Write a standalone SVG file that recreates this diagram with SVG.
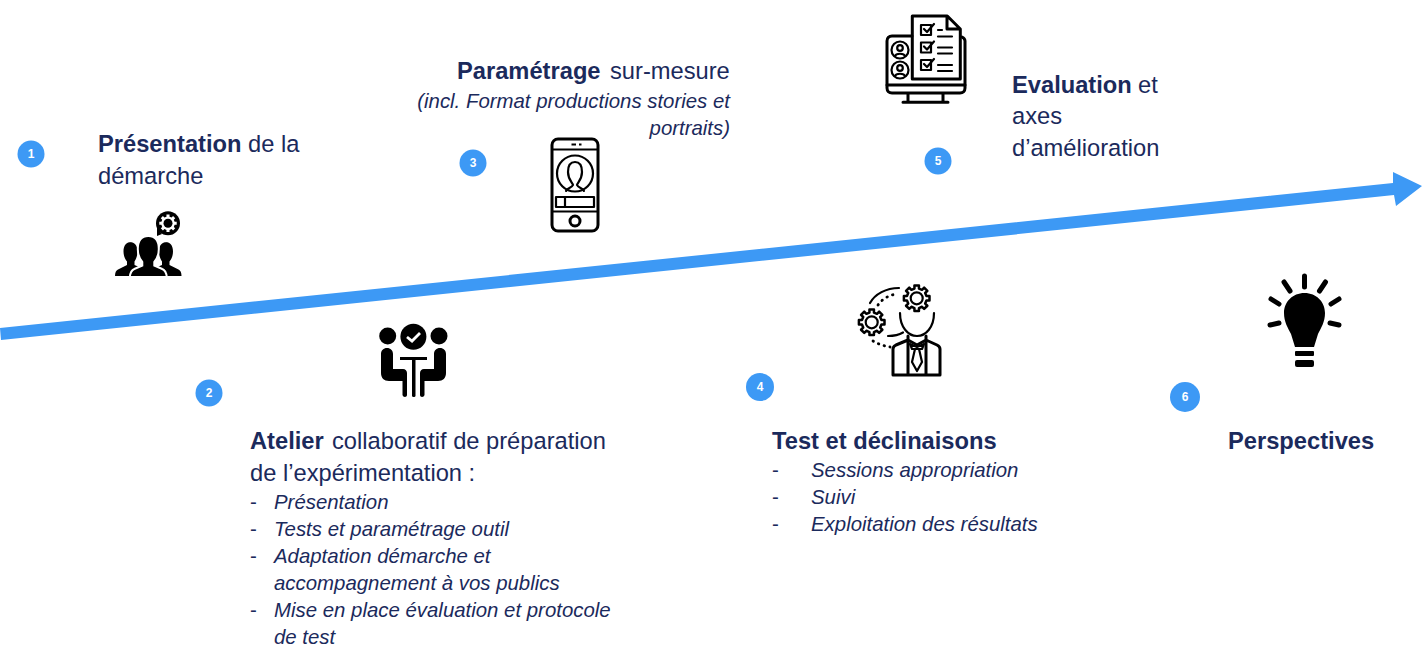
<svg xmlns="http://www.w3.org/2000/svg" width="1422" height="646" viewBox="0 0 1422 646">
<style>
text{font-family:"Liberation Sans",Arial,sans-serif;fill:#1b2a5c}
.h{font-size:23.700px}
.b{font-weight:700}
.s{font-size:20.400px}
.i{font-style:italic}
.n{font-size:12px;font-weight:700;fill:#fff;text-anchor:middle}
.badge{fill:#3d99f5}
.k{fill:#000}
.l{fill:none;stroke:#000;stroke-width:3;stroke-linecap:round;stroke-linejoin:round}
.t{fill:none;stroke:#000;stroke-width:2.200;stroke-linecap:round;stroke-linejoin:round}
</style>
<defs>
<polygon id="gear" points="9.74,-2.25 12.8,-2.26 12.8,2.26 9.74,2.25 8.48,5.3 10.65,7.45 7.45,10.65 5.3,8.48 2.25,9.74 2.26,12.8 -2.26,12.8 -2.25,9.74 -5.3,8.48 -7.45,10.65 -10.65,7.45 -8.48,5.3 -9.74,2.25 -12.8,2.26 -12.8,-2.26 -9.74,-2.25 -8.48,-5.3 -10.65,-7.45 -7.45,-10.65 -5.3,-8.48 -2.25,-9.74 -2.26,-12.8 2.26,-12.8 2.25,-9.74 5.3,-8.48 7.45,-10.65 10.65,-7.45 8.48,-5.3"/>
</defs>
<rect width="1422" height="646" fill="#fff"/>
<g id="connectors">
<path id="timeline" d="M0 328 L1393 183 L1393 172 L1422 186 L1396 206 L1394 195 L1 340 Z" fill="#3d99f5"/>
</g>
<g id="node1">
<circle class="badge" cx="31" cy="154" r="13.500"/><text class="n" x="31" y="158">1</text>
<text class="h" x="98" y="152"><tspan class="b">Présentation</tspan><tspan x="248">de la</tspan></text>
<text class="h" x="98" y="184">démarche</text>
<g>
<path class="k" d="M130 242c4.500 0 7.500 3.500 7.500 9.500 0 4-1.500 8-3 10v3.500l8 3.500-7 7.500h-20.500c0-3.500 1-5.500 3-6.500l9-4.500v-3.500c-2-2-3.500-6-3.500-10 0-6 3-9.500 7-9.500z"/>
<path class="k" d="M166.500 242c-4.500 0-7.500 3.500-7.500 9.500 0 4 1.500 8 3 10v3.500l-8 3.500 7 7.500h20.500c0-3.500-1-5.500-3-6.500l-9-4.500v-3.500c2-2 3.500-6 3.500-10 0-6-3-9.500-7-9.500z"/>
<path class="k" stroke="#fff" stroke-width="2" d="M148.300 236c6.500 0 10.500 5 10.500 13 0 5-2 10-4.500 13v3.500l8 3.500c2.500 1 4 3.500 4.500 8h-37c.5-4.500 2-7 4.500-8l8-3.500v-3.500c-2.500-3-4.500-8-4.500-13 0-8 4-13 10.500-13z"/>
<circle class="k" cx="168" cy="223.300" r="12"/>
<path class="k" d="M157 227l5 7-5 2z"/>
<use href="#gear" transform="translate(168 223.300) scale(.68)" fill="#fff"/>
<circle class="k" cx="168" cy="223.300" r="4.500"/>
</g>
</g>
<g id="node2">
<circle class="badge" cx="209" cy="393" r="13.500"/><text class="n" x="209" y="397">2</text>
<text class="h" x="250" y="449"><tspan class="b">Atelier</tspan><tspan x="332">collaboratif de préparation</tspan></text>
<text class="h" x="250" y="481">de l’expérimentation :</text>
<text class="s" x="250" y="509">-</text><text class="s i" x="274" y="509">Présentation</text>
<text class="s" x="250" y="536">-</text><text class="s i" x="274" y="536">Tests et paramétrage outil</text>
<text class="s" x="250" y="563">-</text><text class="s i" x="274" y="563">Adaptation démarche et</text>
<text class="s i" x="274" y="590">accompagnement à vos publics</text>
<text class="s" x="250" y="617">-</text><text class="s i" x="274" y="617">Mise en place évaluation et protocole</text>
<text class="s i" x="274" y="644">de test</text>
<g>
<circle class="k" cx="387.700" cy="336" r="8.500"/><circle class="k" cx="439" cy="336" r="8.500"/>
<circle class="k" cx="413.400" cy="336.700" r="13"/>
<path d="M407 337l5 4 8-8" fill="none" stroke="#fff" stroke-width="2.800"/>
<rect class="k" x="400" y="357" width="27" height="3"/>
<rect class="k" x="412" y="358" width="3.500" height="39" rx="1.500"/>
<path class="k" d="M387 348c3.500 0 6 2.500 6 6v15h10c2.500 0 4 2 4 4v22c0 2.500-4 2.500-4.500 0v-14h-13.500c-5 0-8-3-8-8v-19c0-3.500 2.500-6 6-6z"/>
<path class="k" d="M440 348c-3.500 0-6 2.500-6 6v15h-10c-2.500 0-4 2-4 4v22c0 2.500 4 2.500 4.500 0v-14h13.500c5 0 8-3 8-8v-19c0-3.500-2.500-6-6-6z"/>
</g>
</g>
<g id="node3">
<circle class="badge" cx="473" cy="163" r="13.500"/><text class="n" x="473" y="167">3</text>
<text class="h" x="457" y="79"><tspan class="b">Paramétrage</tspan><tspan x="610">sur-mesure</tspan></text>
<text class="s i" x="730" y="108" text-anchor="end">(incl. Format productions stories et</text>
<text class="s i" x="730" y="135" text-anchor="end">portraits)</text>
<g>
<rect class="l" x="552" y="139" width="46" height="92" rx="6"/>
<path class="t" d="M552 149.500h46M552 211.500h46"/>
<path d="M571.500 144.500h4.500M579 144.500h2.500" stroke="#000" stroke-width="2.200"/>
<circle class="t" cx="575" cy="173.500" r="18"/>
<path class="t" d="M566 191c.5-3 6-3 7-6 0-2-5-5-5-13 0-7 3-10 7-10s7 3 7 10c0 8-5 11-5 13 1 3 6.500 3 7 6"/>
<rect class="t" x="556" y="197" width="38" height="10"/><path class="t" d="M565 197v10"/>
<circle class="l" cx="575" cy="221" r="5"/>
</g>
</g>
<g id="node4">
<circle class="badge" cx="760" cy="387" r="14"/><text class="n" x="760" y="391">4</text>
<text class="h b" x="772" y="449">Test et déclinaisons</text>
<text class="s" x="772" y="477">-</text><text class="s i" x="811" y="477">Sessions appropriation</text>
<text class="s" x="772" y="504">-</text><text class="s i" x="811" y="504">Suivi</text>
<text class="s" x="772" y="531">-</text><text class="s i" x="811" y="531">Exploitation des résultats</text>
<g>
<use href="#gear" transform="translate(916.700 298.300)" fill="#fff" stroke="#000" stroke-width="2.500" stroke-linejoin="round"/>
<circle class="t" cx="916.700" cy="298.300" r="6"/>
<use href="#gear" transform="translate(871.700 322.300)" fill="#fff" stroke="#000" stroke-width="2.500" stroke-linejoin="round"/>
<circle class="t" cx="871.700" cy="322.300" r="6"/>
<path class="t" d="M870 303c5-9 16-15 29-15M900 313c0 14 8 23 17 23s17-9 17-23M888 336c6 0 11-1 15-3.500"/>
<path d="M878 305c4-6 11-10 19-11M873 341c5 3 11 5 17 6" fill="none" stroke="#000" stroke-width="2.800" stroke-dasharray=".5 5.500" stroke-linecap="round"/>
<path class="l" d="M893 375v-26c0-2 1-3 3-4l12-5 9 5 9-5 11 5c2 1 3 2 3 4v26zM908 336v39M926 336v39"/>
<path class="t" d="M910 344l7 3 7-3-2 5h-10zM915 349l-3 13 5 9 5-9-3-13"/>
</g>
</g>
<g id="node5">
<circle class="badge" cx="938" cy="161" r="13.500"/><text class="n" x="938" y="165">5</text>
<text class="h" x="1012" y="93"><tspan class="b">Evaluation</tspan><tspan x="1138">et</tspan></text>
<text class="h" x="1012" y="124">axes</text>
<text class="h" x="1012" y="156">d’amélioration</text>
<g>
<path class="l" d="M912 36h-20c-3 0-5 2-5 5v47c0 3 2 5 5 5h68c3 0 5-2 5-5V41c0-2-1-3-3-4"/>
<path class="l" d="M887 85h78"/>
<path class="l" d="M912.300 79V16h35l13 13v50zM947 16v13h13M908 94v8M943 94v8M903 102.300h45"/>
<circle class="t" cx="900" cy="50" r="8.500"/><circle class="t" cx="900" cy="70" r="8.500"/>
<circle class="t" cx="900" cy="48" r="2.800"/><circle class="t" cx="900" cy="68" r="2.800"/>
<path class="t" d="M895 56c1-3 9-3 10 0M895 76c1-3 9-3 10 0"/>
<rect class="t" x="921" y="25" width="10" height="10"/><rect class="t" x="921" y="42.500" width="10" height="10"/><rect class="t" x="921" y="60" width="10" height="10"/>
<path class="t" d="M924 29l3 3 7-8M924 46.500l3 3 7-8M924 64l3 3 7-8"/>
<path class="t" d="M938 30h4M938 36.500h14M938 47.500h14M938 53.500h14M938 65h14M938 71h14"/>
</g>
</g>
<g id="node6">
<circle class="badge" cx="1185" cy="397" r="15"/><text class="n" x="1185" y="401">6</text>
<text class="h b" x="1228" y="449">Perspectives</text>
<g>
<path class="k" d="M1304.500 293c12 0 20.500 9 20.500 20 0 9-4 15-7 21l-4 13h-19l-4-13c-3-6-7-12-7-21 0-11 8.500-20 20.500-20z"/>
<rect class="k" x="1295" y="351" width="19" height="5" rx="1"/><rect class="k" x="1295" y="360" width="19" height="7" rx="2"/>
<path d="M1304.500 276v11M1284 282l6 9M1325.500 282l-6 9M1271 299l8 5M1339 299l-8 5M1270 325l9-2M1339 325l-9-2" stroke="#000" stroke-width="5" stroke-linecap="round" fill="none"/>
</g>
</g>
</svg>
